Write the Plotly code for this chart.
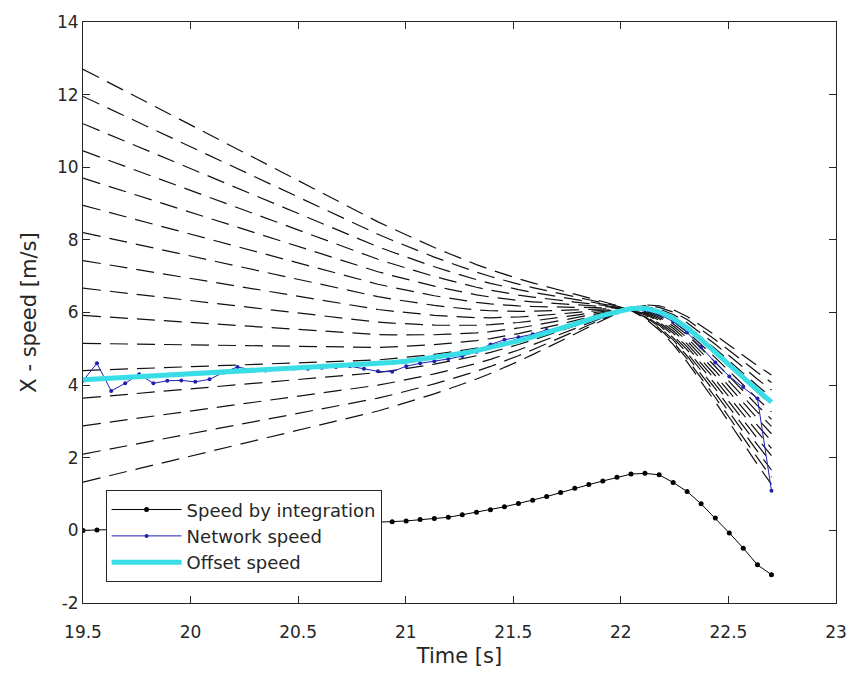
import numpy as np
import plotly.graph_objects as go

# Time samples [s]
time_s = [19.500, 19.565, 19.631, 19.696, 19.761, 19.827, 19.892, 19.957, 20.022, 20.088,
          20.153, 20.218, 20.284, 20.349, 20.414, 20.480, 20.545, 20.610, 20.676, 20.741,
          20.806, 20.871, 20.937, 21.002, 21.067, 21.133, 21.198, 21.263, 21.329, 21.394,
          21.459, 21.524, 21.590, 21.655, 21.720, 21.786, 21.851, 21.916, 21.982, 22.047,
          22.112, 22.178, 22.243, 22.308, 22.373, 22.439, 22.504, 22.569, 22.635, 22.700]

speed_integration = [0.00, 0.01, 0.02, 0.03, 0.04, 0.05, 0.06, 0.07, 0.08, 0.09,
                     0.10, 0.11, 0.12, 0.13, 0.14, 0.15, 0.16, 0.17, 0.18, 0.19,
                     0.20, 0.22, 0.24, 0.26, 0.30, 0.33, 0.36, 0.43, 0.50, 0.57,
                     0.65, 0.74, 0.83, 0.93, 1.04, 1.16, 1.26, 1.36, 1.46, 1.55,
                     1.57, 1.53, 1.32, 1.07, 0.73, 0.34, -0.07, -0.49, -0.95, -1.22]

network_speed = [4.12, 4.60, 3.84, 4.05, 4.30, 4.05, 4.12, 4.13, 4.09, 4.16,
                 4.35, 4.50, 4.42, 4.40, 4.44, 4.46, 4.45, 4.48, 4.50, 4.52,
                 4.45, 4.38, 4.37, 4.52, 4.60, 4.66, 4.72, 4.80, 4.92, 5.12,
                 5.25, 5.32, 5.40, 5.52, 5.56, 5.66, 5.76, 5.88, 6.00, 6.10,
                 6.06, 5.95, 5.75, 5.45, 5.05, 4.62, 4.24, 3.95, 3.63, 1.09]

offset_speed = [4.15, 4.17, 4.19, 4.21, 4.23, 4.25, 4.27, 4.29, 4.31, 4.33,
                4.35, 4.37, 4.39, 4.41, 4.43, 4.45, 4.47, 4.49, 4.51, 4.53,
                4.55, 4.58, 4.62, 4.66, 4.71, 4.76, 4.82, 4.88, 4.95, 5.03,
                5.12, 5.22, 5.33, 5.44, 5.56, 5.68, 5.80, 5.92, 6.03, 6.11,
                6.12, 6.02, 5.84, 5.58, 5.26, 4.92, 4.57, 4.21, 3.86, 3.53]

# Candidate offset curves: value read at t = 19.5, all pivoting about t_pivot
candidate_start = [12.70, 11.95, 11.20, 10.45, 9.70, 8.95, 8.20, 7.43,
                   6.67, 5.92, 5.15, 4.40, 3.64, 2.88, 2.10, 1.33]
t_pivot = 22.03

x_ticks = [19.5, 20, 20.5, 21, 21.5, 22, 22.5, 23]
x_tick_labels = ["19.5", "20", "20.5", "21", "21.5", "22", "22.5", "23"]
y_ticks = [-2, 0, 2, 4, 6, 8, 10, 12, 14]
y_tick_labels = ["-2", "0", "2", "4", "6", "8", "10", "12", "14"]

FONT = "DejaVu Sans"
TXT = "#262626"

t = np.array(time_s)
base = np.array(offset_speed)
fig = go.Figure()

for s in candidate_start:
    d = s - base[0]
    curve = base + d * (t - t_pivot) / (t[0] - t_pivot)
    fig.add_trace(go.Scatter(x=time_s, y=curve.tolist(), mode="lines",
                             line=dict(color="#111111", width=1.2, dash="18px,9px"),
                             showlegend=False, hoverinfo="skip"))

fig.add_trace(go.Scatter(x=time_s, y=speed_integration, mode="lines+markers",
                         name="Speed by integration",
                         line=dict(color="black", width=1),
                         marker=dict(color="black", size=5)))
fig.add_trace(go.Scatter(x=time_s, y=network_speed, mode="lines+markers",
                         name="Network speed",
                         line=dict(color="#2020b0", width=1),
                         marker=dict(color="#2020b0", size=4)))
fig.add_trace(go.Scatter(x=time_s, y=offset_speed, mode="lines",
                         name="Offset speed",
                         line=dict(color="#38dde6", width=5)))

axis_common = dict(showline=True, linecolor=TXT, linewidth=1, mirror="ticks",
                   ticks="inside", ticklen=7, tickcolor=TXT, showgrid=False,
                   zeroline=False, tickfont=dict(family=FONT, size=17, color=TXT))

fig.update_xaxes(range=[19.5, 23], tickvals=x_ticks, ticktext=x_tick_labels,
                 ticklabelstandoff=14,
                 title=dict(text="Time [s]", font=dict(family=FONT, size=21, color=TXT), standoff=6),
                 **axis_common)
fig.update_yaxes(range=[-2, 14], tickvals=y_ticks, ticktext=y_tick_labels,
                 title=dict(text="X - speed [m/s]", font=dict(family=FONT, size=21, color=TXT), standoff=14),
                 **axis_common)

fig.update_layout(
    width=859, height=678,
    margin=dict(l=83, r=14, t=21, b=75),
    paper_bgcolor="white", plot_bgcolor="white",
    font=dict(family=FONT, color=TXT),
    legend=dict(x=0.030, y=0.194, xanchor="left", yanchor="top",
                bgcolor="white", bordercolor=TXT, borderwidth=1,
                font=dict(family=FONT, size=18, color=TXT),
                itemwidth=70, tracegroupgap=0),
)

fig.write_html("out.html")
